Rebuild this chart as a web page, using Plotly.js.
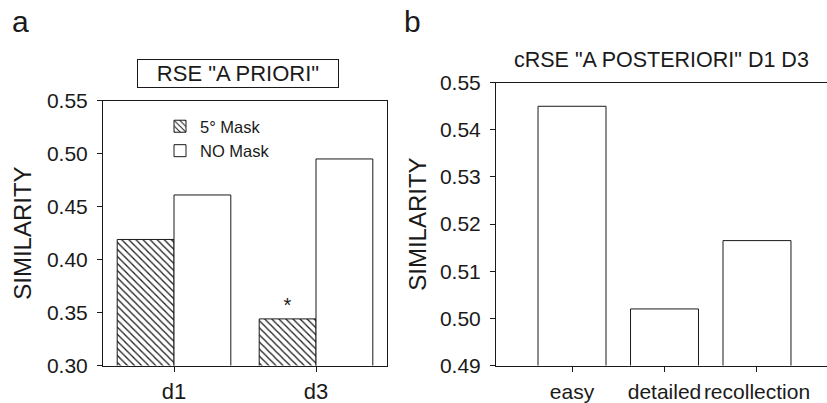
<!DOCTYPE html>
<html>
<head>
<meta charset="utf-8">
<script src="https://cdn.plot.ly/plotly-3.0.1.min.js"></script>
<style>html,body{margin:0;padding:0;background:#fff;}#chart{width:827px;height:403px;}</style>
</head>
<body>
<div id="chart"></div>
<script>
// Panel a: RSE "A PRIORI"
const groupCats = ['d1', 'd3'];
const mask5 = [0.419, 0.344];
const noMask = [0.461, 0.495];
const maskSig = ['', '*'];
const seriesNames = ['5° Mask', 'NO Mask'];
// Panel b: cRSE "A POSTERIORI" D1 D3
const postCats = ['easy', 'detailed', 'recollection'];
const postVals = [0.545, 0.502, 0.5165];

const FONT = 'Liberation Sans, Arial, sans-serif';
const INK = '#1a1a1a';

const traces = [
  {
    type: 'bar', x: groupCats, y: mask5, name: seriesNames[0],
    xaxis: 'x', yaxis: 'y', legendgroup: 'g1',
    text: maskSig, textposition: 'outside', cliponaxis: false,
    textfont: {family: FONT, size: 20, color: INK},
    marker: {color: 'white', line: {color: INK, width: 1},
      pattern: {shape: '\\', fgcolor: INK, bgcolor: 'white', size: 5, solidity: 0.25}},
    hoverinfo: 'skip'
  },
  {
    type: 'bar', x: groupCats, y: noMask, name: seriesNames[1],
    xaxis: 'x', yaxis: 'y', legendgroup: 'g2',
    marker: {color: 'white', line: {color: INK, width: 1}},
    hoverinfo: 'skip'
  },
  {
    type: 'bar', x: postCats, y: postVals, name: 'posteriori',
    xaxis: 'x2', yaxis: 'y2', showlegend: false, width: 0.735,
    marker: {color: 'white', line: {color: INK, width: 1}},
    hoverinfo: 'skip'
  }
];

const W = 827, H = 403;
const px = v => v / W;
const py = v => 1 - v / H;

const axisCommon = {
  showgrid: false, zeroline: false, showline: true, linecolor: INK, linewidth: 1,
  ticks: 'outside', ticklen: 5, tickwidth: 1, tickcolor: INK,
  tickfont: {family: FONT, size: 21, color: INK}
};

const layout = {
  width: W, height: H,
  margin: {l: 0, r: 0, t: 0, b: 0},
  paper_bgcolor: 'white', plot_bgcolor: 'white',
  font: {family: FONT, color: INK},
  barmode: 'group', bargap: 0.2, bargroupgap: 0,
  showlegend: true,
  legend: {
    x: px(160), y: py(109), xanchor: 'left', yanchor: 'top',
    bgcolor: 'rgba(0,0,0,0)', traceorder: 'grouped', tracegroupgap: 0,
    font: {family: FONT, size: 16.5, color: INK}
  },
  xaxis: Object.assign({}, axisCommon, {
    domain: [px(103), px(387)], range: [-0.5, 1.5], mirror: true, tickangle: 0,
    anchor: 'y', tickfont: {family: FONT, size: 22, color: INK}, ticklabelstandoff: 1
  }),
  yaxis: Object.assign({}, axisCommon, {
    domain: [py(365.5), py(100.7)], range: [0.30, 0.55], dtick: 0.05, tick0: 0.30,
    tickformat: '.2f', mirror: true, anchor: 'x', ticklabelstandoff: 5,
    title: {text: 'SIMILARITY', font: {family: FONT, size: 24, color: INK}, standoff: 8}
  }),
  xaxis2: Object.assign({}, axisCommon, {
    domain: [px(496), 1], range: [-0.822, 2.757], mirror: true, tickangle: 0,
    anchor: 'y2', tickfont: {family: FONT, size: 21, color: INK}, ticklabelstandoff: 2
  }),
  yaxis2: Object.assign({}, axisCommon, {
    domain: [py(365.5), py(82.7)], range: [0.49, 0.55], dtick: 0.01, tick0: 0.49,
    tickformat: '.2f', mirror: false, anchor: 'x2', ticklabelstandoff: 5,
    title: {text: 'SIMILARITY', font: {family: FONT, size: 24, color: INK}, standoff: 6}
  }),
  annotations: [
    {text: 'a', xref: 'paper', yref: 'paper', x: px(20), y: py(22), showarrow: false,
     xanchor: 'center', yanchor: 'middle', font: {family: FONT, size: 30, color: INK}},
    {text: 'b', xref: 'paper', yref: 'paper', x: px(412), y: py(22), showarrow: false,
     xanchor: 'center', yanchor: 'middle', font: {family: FONT, size: 30, color: INK}},
    {text: 'RSE "A PRIORI"', xref: 'paper', yref: 'paper', x: px(237.7), y: py(73.7),
     showarrow: false, xanchor: 'center', yanchor: 'middle', width: 198, height: 25,
     bordercolor: INK, borderwidth: 1, borderpad: 1, bgcolor: 'white',
     font: {family: FONT, size: 22, color: INK}},
    {text: 'cRSE "A POSTERIORI" D1 D3', xref: 'paper', yref: 'paper', x: px(661.7), y: py(60),
     showarrow: false, xanchor: 'center', yanchor: 'middle',
     font: {family: FONT, size: 21.5, color: INK}}
  ]
};

Plotly.newPlot('chart', traces, layout, {staticPlot: true, displayModeBar: false});
</script>
</body>
</html>
